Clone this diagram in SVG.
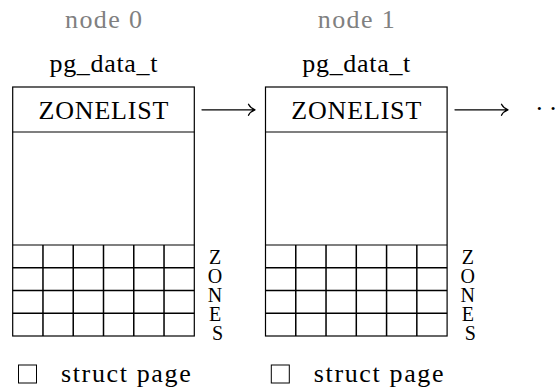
<svg xmlns="http://www.w3.org/2000/svg" width="560" height="389" viewBox="0 0 560 389" font-family="'Liberation Serif', 'DejaVu Serif', serif">
  <style>
    .title { font-size: 26px; fill: #808080; text-anchor: middle; }
    .type { font-size: 26px; fill: #000; text-anchor: middle; }
    .head { font-size: 26px; fill: #000; text-anchor: middle; }
    .zones { font-size: 20px; fill: #000; text-anchor: middle; }
    .legend { font-size: 26px; fill: #000; }
    .frame { fill: none; stroke: #000; stroke-width: 1.2; }
    .grid { fill: none; stroke: #000; stroke-width: 1.5; }
    .key { fill: none; stroke: #000; stroke-width: 1; }
    .arrow { fill: none; stroke: #000; stroke-width: 1.3; stroke-linecap: round; stroke-linejoin: round; }
  </style>

  <!-- node 0 -->
  <g id="node0">
    <text class="title" x="103.5" y="27.5" textLength="77">node 0</text>
    <text class="type" x="103.5" y="71.5" textLength="108">pg_data_t</text>
    <rect class="frame" x="12.7" y="87" width="181.6" height="249"/>
    <line class="frame" x1="12.7" y1="132" x2="194.3" y2="132"/>
    <text class="head" x="103.5" y="118.5" textLength="130">ZONELIST</text>
    <line class="frame" x1="12.7" y1="245" x2="194.3" y2="245"/>
    <path class="grid" d="M12.7,267.75H194.3 M12.7,290.5H194.3 M12.7,313.25H194.3 M42.97,245V336 M73.23,245V336 M103.5,245V336 M133.77,245V336 M164.03,245V336"/>
    <text class="zones">
      <tspan x="217.5" y="263.5">Z</tspan>
      <tspan x="217.5" y="282.5">O</tspan>
      <tspan x="217.5" y="301.5">N</tspan>
      <tspan x="217.5" y="320.5">E</tspan>
      <tspan x="217.5" y="339.5">S</tspan>
    </text>
    <rect class="key" x="18.5" y="365" width="18" height="18"/>
    <text class="legend" x="61" y="381.5" textLength="129.7">struct page</text>
  </g>

  <!-- node 1 -->
  <g id="node1" transform="translate(252.8,0)">
    <text class="title" x="103.5" y="27.5" textLength="77">node 1</text>
    <text class="type" x="103.5" y="71.5" textLength="108">pg_data_t</text>
    <rect class="frame" x="12.7" y="87" width="181.6" height="249"/>
    <line class="frame" x1="12.7" y1="132" x2="194.3" y2="132"/>
    <text class="head" x="103.5" y="118.5" textLength="130">ZONELIST</text>
    <line class="frame" x1="12.7" y1="245" x2="194.3" y2="245"/>
    <path class="grid" d="M12.7,267.75H194.3 M12.7,290.5H194.3 M12.7,313.25H194.3 M42.97,245V336 M73.23,245V336 M103.5,245V336 M133.77,245V336 M164.03,245V336"/>
    <text class="zones">
      <tspan x="217.5" y="263.5">Z</tspan>
      <tspan x="217.5" y="282.5">O</tspan>
      <tspan x="217.5" y="301.5">N</tspan>
      <tspan x="217.5" y="320.5">E</tspan>
      <tspan x="217.5" y="339.5">S</tspan>
    </text>
    <rect class="key" x="18.5" y="365" width="18" height="18"/>
    <text class="legend" x="61" y="381.5" textLength="129.7">struct page</text>
  </g>

  <!-- links between the node descriptors -->
  <g id="connectors">
    <path class="arrow" d="M202,109.8H254.5 M248.5,104.3Q250.5,108.3 255,109.8Q250.5,111.3 248.5,115.3"/>
    <path class="arrow" d="M455,109.8H507.5 M501.5,104.3Q503.5,108.3 508,109.8Q503.5,111.3 501.5,115.3"/>
    <text class="legend" x="535" y="117.2" letter-spacing="5.2">··</text>
  </g>
</svg>
